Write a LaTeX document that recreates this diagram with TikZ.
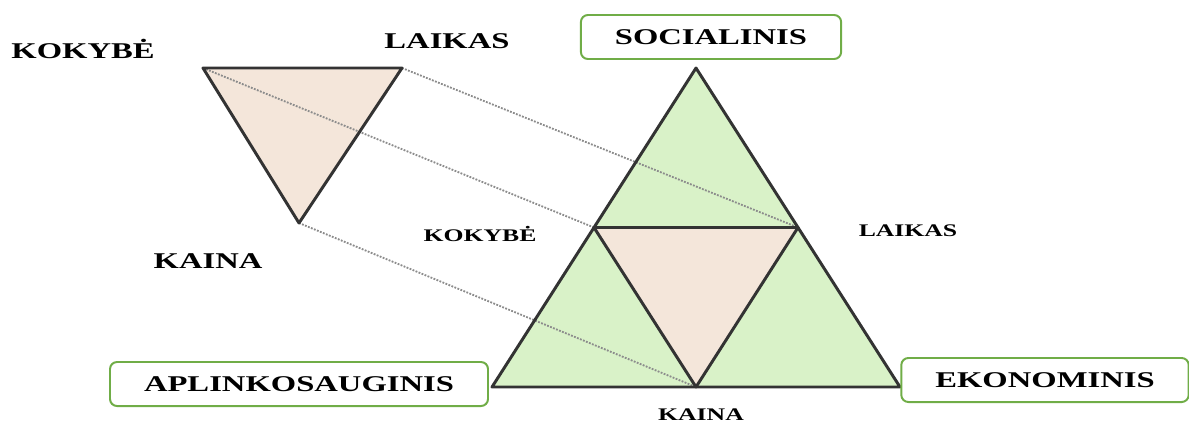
\documentclass[tikz,border=0pt]{standalone}
\usepackage{fontspec}
\setmainfont{Liberation Serif}[FakeStretch=1.45]
\usetikzlibrary{calc}
\definecolor{leafgreen}{RGB}{217,242,200}
\definecolor{sandfill}{RGB}{244,230,218}
\definecolor{boxgreen}{RGB}{112,173,71}
\tikzset{
	triedge/.style={draw=black!80,line width=2.1pt,line join=round},
	linkedge/.style={draw=black!45,line width=1.3pt,dash pattern=on 1.3pt off 1pt},
	dimbox/.style={draw=boxgreen,line width=1.4pt,rounded corners=5pt,fill=white,inner xsep=0.85cm,
		minimum height=1.1cm,text height=10.6pt,text depth=0pt,font=\fontsize{16}{19}\selectfont\bfseries},
	cornerlabel/.style={text height=10.6pt,text depth=0pt,font=\fontsize{16}{19}\selectfont\bfseries},
	innerlabel/.style={text height=8.4pt,text depth=0pt,font=\fontsize{12.6}{15}\selectfont\bfseries}
}

\begin{document}
\begin{tikzpicture}[x=0.025cm,y=-0.025cm]
	\useasboundingbox (0,0) rectangle (1189,423);
	% big triangle and its middle
	\coordinate (apex) at (696,68);
	\coordinate (left) at (492,387);
	\coordinate (right) at (900,387);
	\coordinate (kokybe) at ($(left)!0.5!(apex)$);
	\coordinate (laikas) at ($(right)!0.5!(apex)$);
	\coordinate (kaina) at ($(left)!0.5!(right)$);
	% small triangle
	\coordinate (skokybe) at (203,68);
	\coordinate (slaikas) at (402,68);
	\coordinate (skaina) at (299,223);
	\fill[leafgreen] (apex) -- (left) -- (right) -- cycle;
	\fill[sandfill] (kokybe) -- (laikas) -- (kaina) -- cycle;
	\fill[sandfill] (skokybe) -- (slaikas) -- (skaina) -- cycle;
	\foreach \p in {kokybe,laikas,kaina} \draw[linkedge] (s\p) -- (\p);
	\draw[triedge] (apex) -- (left) -- (right) -- cycle;
	\draw[triedge] (kokybe) -- (laikas) -- (kaina) -- cycle;
	\draw[triedge] (skokybe) -- (slaikas) -- (skaina) -- cycle;
	% labels
	\node[cornerlabel] (tkokybe) at (83,51) {KOKYBĖ};
	\node[cornerlabel] (tlaikas) at (447,41) {LAIKAS};
	\node[cornerlabel] (tkaina) at (208,261) {KAINA};
	\node[innerlabel] (ikokybe) at (480,236) {KOKYBĖ};
	\node[innerlabel] (ilaikas) at (908,231) {LAIKAS};
	\node[innerlabel] (ikaina) at (701,415) {KAINA};
	\node[dimbox] (social) at (711,37) {SOCIALINIS};
	\node[dimbox] (aplink) at (299,384) {APLINKOSAUGINIS};
	\node[dimbox] (ekonom) at (1045,380) {EKONOMINIS};
\end{tikzpicture}
\end{document}
